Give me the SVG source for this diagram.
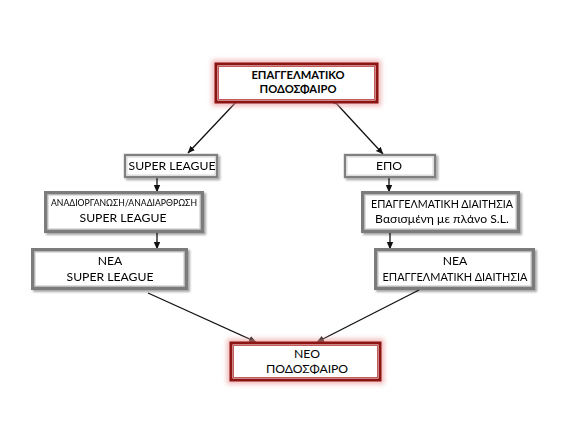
<svg xmlns="http://www.w3.org/2000/svg" width="580" height="430" viewBox="0 0 580 430">
<defs>
<style>
text{font-family:Lato,"Open Sans","Liberation Sans",sans-serif;fill:#000;text-anchor:middle}
.t12{font-size:12.2px}
.tb{font-size:11.2px;font-weight:bold}
.t9{font-size:9px}
.g2o{fill:#fff;stroke:#7c7c7c;stroke-width:4}
.g2i{fill:none;stroke:#d2d2d2;stroke-width:1.4}
.g1o{fill:#fff;stroke:#808080;stroke-width:2.4}
.g1i{fill:none;stroke:#d0d0d0;stroke-width:0.8}
.rg{fill:none;stroke:#ec9a9a;stroke-width:8;opacity:0.7}
.ro{fill:#fff;stroke:#8e1414;stroke-width:3}
.ri{fill:none;stroke:#c85a5a;stroke-width:1}
.c{stroke:#111;stroke-width:1.3;fill:none;marker-end:url(#ah)}
.cd{marker-start:url(#dot)}
</style>
<filter id="sh" x="-10%" y="-20%" width="130%" height="150%">
<feDropShadow dx="2" dy="2" stdDeviation="1.3" flood-color="#000" flood-opacity="0.35"/>
</filter>
<filter id="gl" x="-20%" y="-50%" width="140%" height="200%">
<feGaussianBlur stdDeviation="2.5"/>
</filter>
<marker id="ah" markerUnits="userSpaceOnUse" markerWidth="8" markerHeight="8" viewBox="0 0 8 8" refX="7" refY="4" orient="auto">
<path d="M0,0.8 L7.5,4 L0,7.2 Z" fill="#111"/>
</marker>
<marker id="dot" markerUnits="userSpaceOnUse" markerWidth="6" markerHeight="6" viewBox="0 0 6 6" refX="3" refY="3">
<circle cx="3" cy="3" r="2.2" fill="#111"/>
</marker>
</defs>

<g id="connectors">
<line class="c cd" x1="238" y1="100" x2="188" y2="153"/>
<line class="c cd" x1="335" y1="102" x2="383" y2="154"/>
<line class="c" x1="157" y1="178" x2="157" y2="192"/>
<line class="c" x1="389" y1="178" x2="389" y2="192"/>
<line class="c" x1="157" y1="233" x2="157" y2="249"/>
<line class="c" x1="390" y1="233" x2="390" y2="249"/>
<line class="c" x1="148" y1="293" x2="256" y2="342"/>
<line class="c" x1="419" y1="290" x2="317" y2="342"/>
</g>

<g id="professional-football">
<rect class="rg" x="216" y="64" width="161" height="38" filter="url(#gl)"/>
<rect class="ro" x="216" y="64" width="161" height="38"/>
<rect class="ri" x="218.5" y="66.5" width="156" height="33"/>
<text class="tb" x="298" y="79">ΕΠΑΓΓΕΛΜΑΤΙΚΟ</text>
<text class="tb" x="298" y="93">ΠΟΔΟΣΦΑΙΡΟ</text>
</g>

<g id="super-league" filter="url(#sh)">
<rect class="g1o" x="125" y="155" width="92" height="22"/>
<rect class="g1i" x="127" y="157" width="88" height="18"/>
<text class="t12" x="172" y="170">SUPER LEAGUE</text>
</g>

<g id="epo" filter="url(#sh)">
<rect class="g1o" x="345" y="155" width="90" height="22"/>
<rect class="g1i" x="347" y="157" width="86" height="18"/>
<text class="t12" x="389" y="170">ΕΠΟ</text>
</g>

<g id="reorganization" filter="url(#sh)">
<rect class="g2o" x="46" y="193" width="156" height="38"/>
<rect class="g2i" x="48" y="195" width="152" height="34"/>
<text class="t9" x="124" y="206" textLength="146" lengthAdjust="spacingAndGlyphs">ΑΝΑΔΙΟΡΓΑΝΩΣΗ/ΑΝΑΔΙΑΡΘΡΩΣΗ</text>
<text class="t12" x="123" y="222">SUPER LEAGUE</text>
</g>

<g id="professional-refereeing" filter="url(#sh)">
<rect class="g2o" x="363" y="193" width="155" height="38"/>
<rect class="g2i" x="365" y="195" width="151" height="34"/>
<text class="t12" x="442" y="208" textLength="142" lengthAdjust="spacingAndGlyphs">ΕΠΑΓΓΕΛΜΑΤΙΚΗ ΔΙΑΙΤΗΣΙΑ</text>
<text class="t12" x="442" y="223">Βασισμένη με πλάνο S.L.</text>
</g>

<g id="new-super-league" filter="url(#sh)">
<rect class="g2o" x="33" y="250" width="153" height="38"/>
<rect class="g2i" x="35" y="252" width="149" height="34"/>
<text class="t12" x="110" y="265">ΝΕΑ</text>
<text class="t12" x="110" y="281">SUPER LEAGUE</text>
</g>

<g id="new-professional-refereeing" filter="url(#sh)">
<rect class="g2o" x="376" y="250" width="157" height="38"/>
<rect class="g2i" x="378" y="252" width="153" height="34"/>
<text class="t12" x="455" y="265">ΝΕΑ</text>
<text class="t12" x="455" y="281" textLength="145" lengthAdjust="spacingAndGlyphs">ΕΠΑΓΓΕΛΜΑΤΙΚΗ ΔΙΑΙΤΗΣΙΑ</text>
</g>

<g id="new-football">
<rect class="rg" x="231" y="343" width="149" height="37" filter="url(#gl)"/>
<rect class="ro" x="231" y="343" width="149" height="37"/>
<rect class="ri" x="233.5" y="345.5" width="144" height="32"/>
<text class="t12" x="307" y="358">ΝΕΟ</text>
<text class="t12" x="307" y="373">ΠΟΔΟΣΦΑΙΡΟ</text>
</g>
</svg>
